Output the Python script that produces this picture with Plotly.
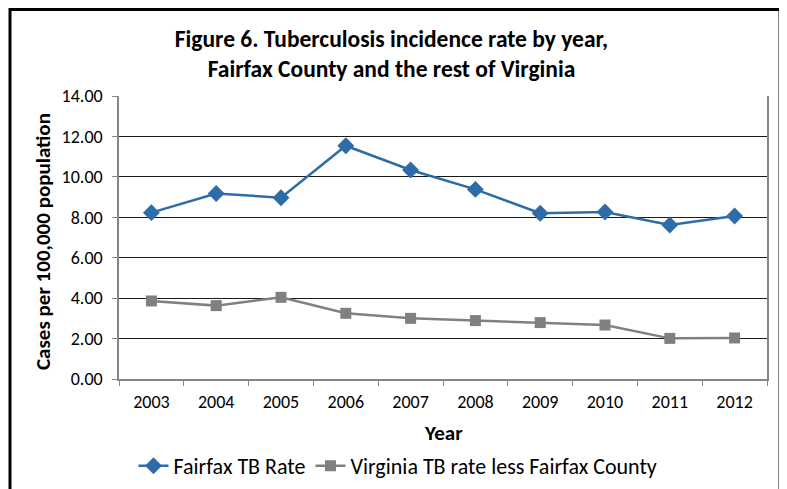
import plotly.graph_objects as go

years = ["2003", "2004", "2005", "2006", "2007", "2008", "2009", "2010", "2011", "2012"]
fairfax_rate = [8.23, 9.18, 8.97, 11.54, 10.34, 9.38, 8.20, 8.26, 7.62, 8.06]
virginia_rate = [3.86, 3.63, 4.04, 3.25, 3.00, 2.89, 2.79, 2.67, 2.01, 2.03]

FONT = "Calibri, Carlito, Lato, sans-serif"

# the page body keeps its default 8px margin, so the figure is 8px smaller
W, H = 779, 481
L, R, T, B = 111, 20, 88, 110
PW, PH = W - L - R, H - T - B

fig = go.Figure()

fig.add_trace(go.Scatter(
    x=years, y=fairfax_rate,
    mode="lines+markers",
    name="Fairfax TB Rate",
    line=dict(color="#2E6CA8", width=2.5),
    marker=dict(symbol="diamond", size=13, color="#2E6CA8"),
))

fig.add_trace(go.Scatter(
    x=years, y=virginia_rate,
    mode="lines+markers",
    name="Virginia TB rate less Fairfax County",
    line=dict(color="#808080", width=2.5),
    marker=dict(symbol="square", size=11, color="#808080"),
))

fig.update_layout(
    width=W, height=H,
    margin=dict(l=L, r=R, t=T, b=B, autoexpand=False),
    paper_bgcolor="white", plot_bgcolor="white",
    font=dict(family=FONT, color="#1a1a1a"),
    title=dict(
        text="<b>Figure 6. Tuberculosis incidence rate by year,<br>Fairfax County and the rest of Virginia</b>",
        x=383.5 / W, xanchor="center", xref="container",
        y=1 - 38.5 / H, yanchor="middle", yref="container",
        font=dict(size=23.5, family=FONT, color="black"),
    ),
    xaxis=dict(
        type="category", range=[-0.5, 9.5],
        showgrid=False,
        showline=True, linecolor="#868686", linewidth=1.5,
        ticks="outside", ticklen=5, tickcolor="#868686", tickson="boundaries",
        tickfont=dict(size=18, family=FONT, color="black"),
        ticklabelstandoff=6,
    ),
    yaxis=dict(
        range=[0, 14], dtick=2, tickformat=".2f",
        showgrid=True, gridcolor="#1a1a1a", gridwidth=1,
        zeroline=False,
        showline=True, linecolor="#868686", linewidth=1.5, mirror=True,
        ticks="outside", ticklen=5, tickcolor="#868686",
        tickfont=dict(size=18, family=FONT, color="black"),
        ticklabelstandoff=6,
    ),
    legend=dict(
        orientation="h",
        x=(390 - L) / PW, xanchor="center",
        y=(PH - (458 - T)) / PH, yanchor="middle",
        font=dict(size=22, family=FONT, color="black"),
        itemwidth=30,
    ),
    annotations=[
        dict(text="<b>Cases per 100,000 population</b>", textangle=-90,
             xref="paper", yref="paper",
             x=(35 - L) / PW, y=(PH - (234 - T)) / PH,
             xanchor="center", yanchor="middle", showarrow=False,
             font=dict(size=21, family=FONT, color="black")),
        dict(text="<b>Year</b>",
             xref="paper", yref="paper",
             x=0.5, y=(PH - (425 - T)) / PH,
             xanchor="center", yanchor="middle", showarrow=False,
             font=dict(size=21, family=FONT, color="black")),
    ],
    shapes=[dict(
        type="rect", xref="paper", yref="paper",
        x0=(2 - L) / PW, x1=(772 - L) / PW,
        y0=-0.6, y1=(PH - (1.5 - T)) / PH,
        line=dict(color="black", width=3),
        fillcolor="rgba(0,0,0,0)",
        layer="below",
    )],
)

fig.write_html("out.html")
